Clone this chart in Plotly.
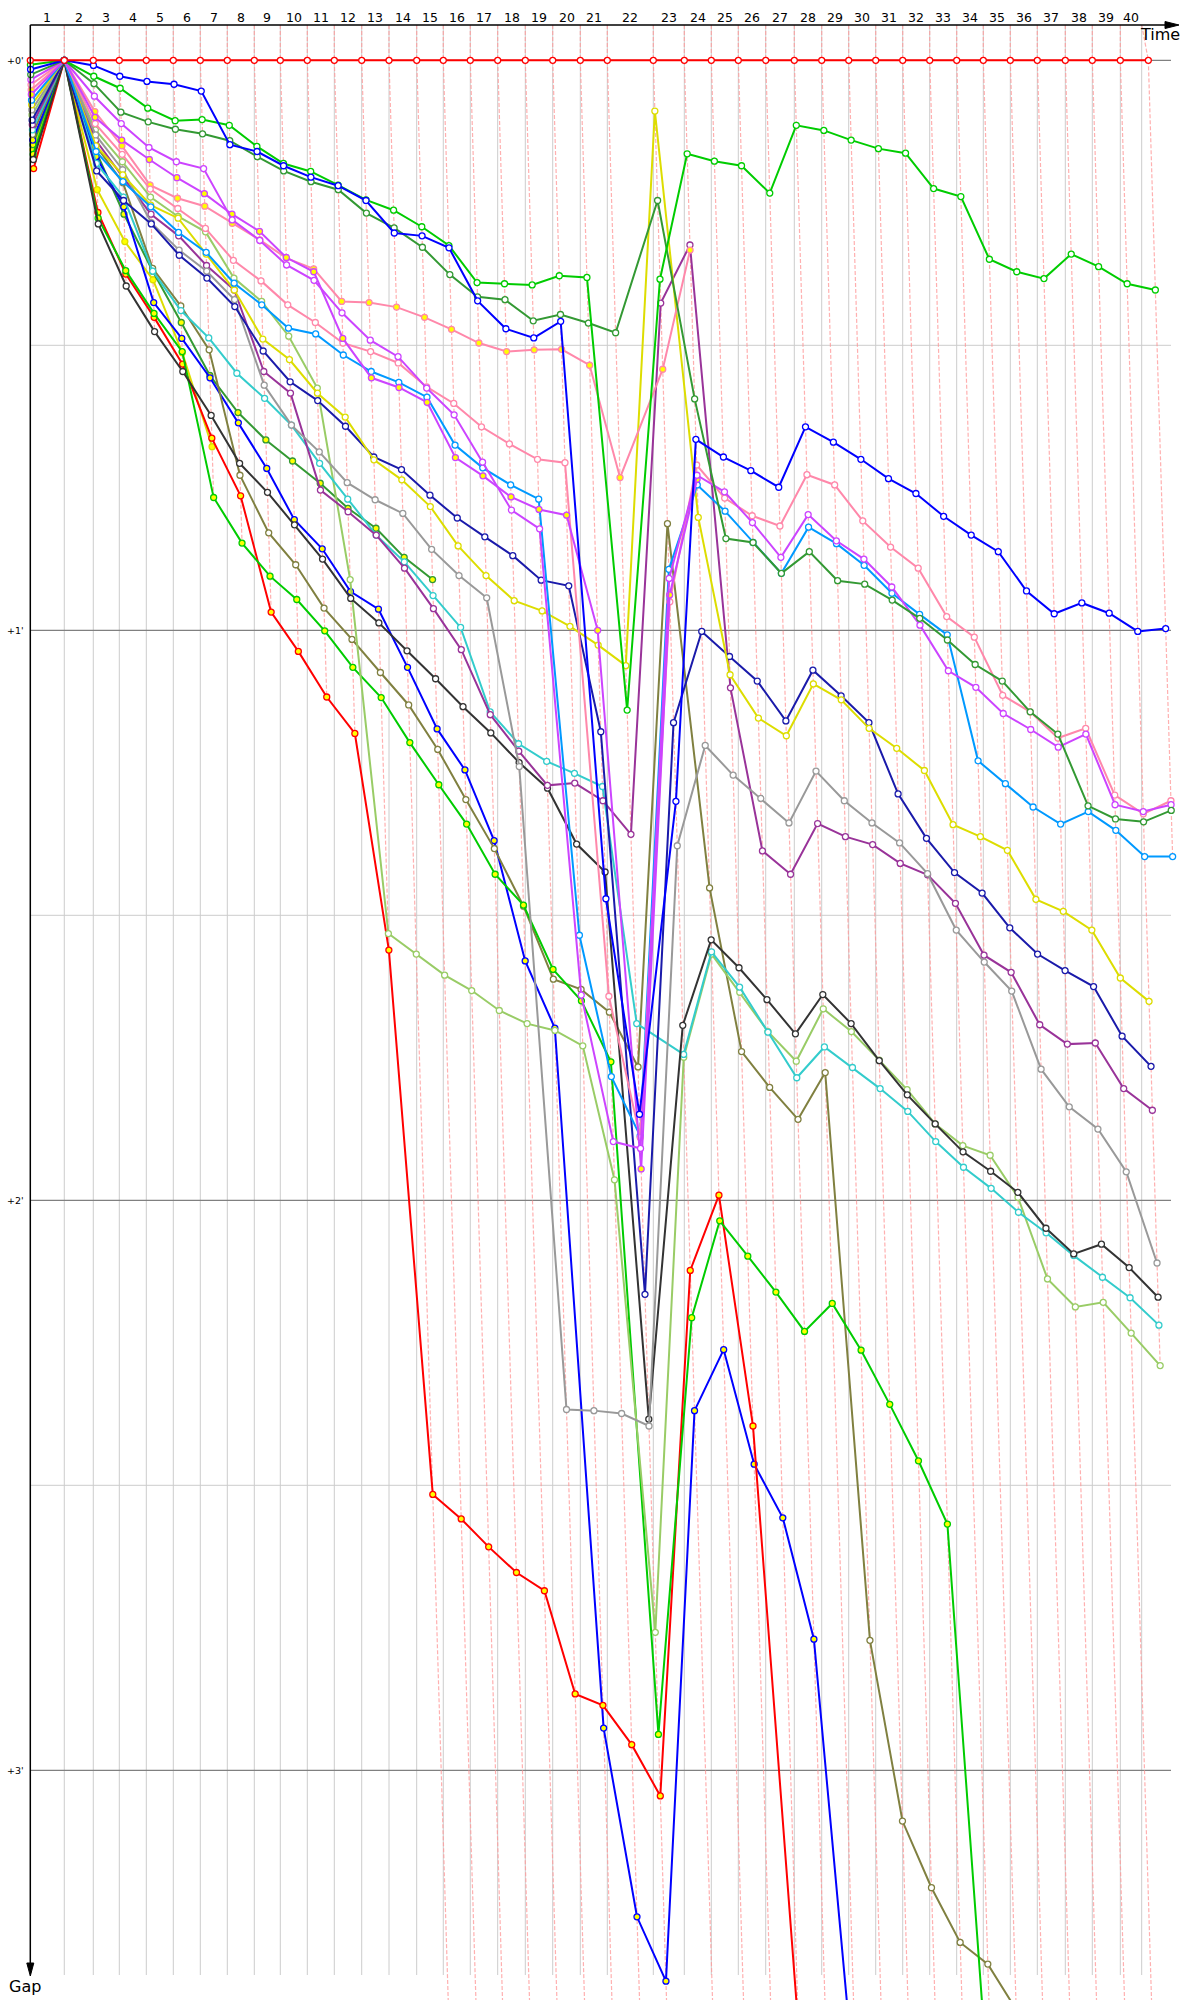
import plotly.graph_objects as go

# ---------------- data ----------------
# leader lap durations in seconds (laps 1..40)
LAP_SECONDS = [117.2, 100.0, 89.7, 93.1, 93.1, 93.1, 93.1, 93.1, 89.7, 93.1,
               93.1, 94.5, 94.1, 95.5, 91.7, 93.1, 94.5, 95.2, 94.5, 95.2,
               93.1, 158.6, 106.9, 93.1, 93.1, 94.5, 98.6, 94.5, 93.1, 93.1,
               93.1, 93.1, 93.1, 91.7, 93.1, 93.1, 96.6, 93.1, 96.6, 96.6]
RACE_END_S = 3832.4
OFFCHART_LAPS = (13, 38)   # laps on which some car is already beyond the bottom of the chart
LAP_LABELS = ["1", "2", "3", "4", "5", "6", "7", "8", "9", "10",
              "11", "12", "13", "14", "15", "16", "17", "18", "19", "20",
              "21", "22", "23", "24", "25", "26", "27", "28", "29", "30",
              "31", "32", "33", "34", "35", "36", "37", "38", "39", "40"]
GAP_TICKS = [0, 1, 2, 3]
GAP_TICK_TEXT = ["+0'", "+1'", "+2'", "+3'"]

# gaps to leader in minutes, index = lap (0 = start)
leader = [0, 0, 0, 0, 0, 0, 0, 0, 0, 0, 0, 0, 0, 0, 0, 0, 0, 0, 0, 0, 0,
          0, 0, 0, 0, 0, 0, 0, 0, 0, 0, 0, 0, 0, 0, 0, 0, 0, 0, 0, 0]
blue = [0.016, 0, 0.009, 0.028, 0.037, 0.042, 0.054, 0.148, 0.160, 0.185, 0.205,
        0.220, 0.246, 0.303, 0.308, 0.329, 0.422, 0.471, 0.487, 0.458, 1.471,
        1.849, 1.30, 0.665, 0.696, 0.720, 0.749, 0.643, 0.670, 0.700, 0.734,
        0.760, 0.800, 0.833, 0.862, 0.931, 0.971, 0.952, 0.970, 1.002, 0.997]
green = [0.008, 0, 0.028, 0.049, 0.084, 0.106, 0.104, 0.114, 0.151, 0.181, 0.195,
         0.219, 0.245, 0.263, 0.292, 0.325, 0.390, 0.392, 0.394, 0.378, 0.381,
         1.14, 0.384, 0.164, 0.177, 0.185, 0.233, 0.114, 0.123, 0.140, 0.155,
         0.163, 0.225, 0.239, 0.349, 0.371, 0.383, 0.340, 0.362, 0.392, 0.403]
dkgreen = [0.025, 0, 0.041, 0.091, 0.108, 0.121, 0.129, 0.141, 0.169, 0.194, 0.213,
           0.227, 0.268, 0.294, 0.328, 0.376, 0.415, 0.420, 0.457, 0.446, 0.461,
           0.478, 0.246, 0.594, 0.839, 0.846, 0.900, 0.862, 0.913, 0.919, 0.947,
           0.979, 1.017, 1.060, 1.089, 1.143, 1.182, 1.308, 1.331, 1.336, 1.316]
violet = [0.034, 0, 0.063, 0.111, 0.153, 0.178, 0.190, 0.280, 0.316, 0.359, 0.386,
          0.443, 0.491, 0.520, 0.575, 0.622, 0.705, 0.789, 0.822, 1.640, 1.897,
          1.909, 0.909, 0.728, 0.757, 0.811, 0.872, 0.797, 0.843, 0.875, 0.924,
          0.991, 1.071, 1.100, 1.146, 1.174, 1.205, 1.182, 1.306, 1.318, 1.306]
violet_y = [0.060, 0, 0.100, 0.140, 0.174, 0.206, 0.234, 0.270, 0.300, 0.346, 0.371,
            0.488, 0.557, 0.574, 0.600, 0.697, 0.729, 0.766, 0.788, 0.798, 1.000,
            1.945, 0.938, 0.735]
pink = [0.043, 0, 0.111, 0.165, 0.226, 0.260, 0.295, 0.351, 0.387, 0.429, 0.460,
        0.496, 0.511, 0.531, 0.573, 0.602, 0.643, 0.673, 0.700, 0.706, 1.642,
        1.89, 0.95, 0.710, 0.768, 0.799, 0.817, 0.727, 0.745, 0.808, 0.854,
        0.891, 0.976, 1.012, 1.114, 1.143, 1.189, 1.172, 1.289, 1.322, 1.299]
pink_y = [0.052, 0, 0.090, 0.150, 0.219, 0.242, 0.256, 0.286, 0.315, 0.347, 0.366,
          0.423, 0.425, 0.433, 0.451, 0.472, 0.496, 0.511, 0.508, 0.507, 0.535,
          0.732, 0.542, 0.333]
skyblue = [0.070, 0, 0.160, 0.213, 0.257, 0.302, 0.337, 0.391, 0.429, 0.470, 0.480,
           0.517, 0.546, 0.565, 0.591, 0.675, 0.715, 0.745, 0.770, 1.535, 1.783,
           1.887, 0.893, 0.745, 0.791, 0.846, 0.900, 0.819, 0.848, 0.886, 0.935,
           0.972, 1.008, 1.229, 1.269, 1.310, 1.340, 1.318, 1.351, 1.397, 1.397]
yellow = [0.078, 0, 0.150, 0.201, 0.254, 0.277, 0.340, 0.403, 0.489, 0.525, 0.584,
          0.626, 0.701, 0.736, 0.783, 0.852, 0.904, 0.948, 0.966, 0.993, 1.026,
          1.062, 0.089, 0.802, 1.078, 1.154, 1.185, 1.094, 1.122, 1.172, 1.207,
          1.246, 1.341, 1.362, 1.386, 1.472, 1.493, 1.526, 1.610, 1.651]
navy = [0.105, 0, 0.194, 0.246, 0.287, 0.342, 0.382, 0.432, 0.510, 0.564, 0.597,
        0.642, 0.696, 0.718, 0.763, 0.803, 0.836, 0.869, 0.912, 0.922, 1.178,
        2.165, 1.162, 1.002, 1.046, 1.089, 1.159, 1.070, 1.115, 1.162, 1.287,
        1.365, 1.425, 1.461, 1.522, 1.568, 1.597, 1.625, 1.712, 1.765]
grey = [0.087, 0, 0.131, 0.192, 0.285, 0.333, 0.370, 0.420, 0.570, 0.640, 0.687,
        0.741, 0.771, 0.795, 0.858, 0.904, 0.943, 1.239, 2.367, 2.369, 2.374,
        2.396, 1.378, 1.202, 1.254, 1.295, 1.338, 1.247, 1.299, 1.338, 1.373,
        1.427, 1.526, 1.582, 1.633, 1.770, 1.836, 1.875, 1.950, 2.110]
purple = [0.113, 0, 0.140, 0.205, 0.270, 0.308, 0.360, 0.403, 0.546, 0.584, 0.754,
          0.792, 0.833, 0.891, 0.962, 1.034, 1.148, 1.212, 1.272, 1.268, 1.299,
          1.358, 0.426, 0.324, 1.101, 1.387, 1.428, 1.339, 1.362, 1.376, 1.409,
          1.429, 1.479, 1.570, 1.600, 1.692, 1.726, 1.724, 1.804, 1.842]
black = [0.174, 0, 0.287, 0.396, 0.476, 0.546, 0.623, 0.707, 0.758, 0.815, 0.875,
         0.944, 0.987, 1.036, 1.085, 1.134, 1.180, 1.232, 1.277, 1.375, 1.424,
         2.384, 1.693, 1.543, 1.592, 1.648, 1.708, 1.639, 1.690, 1.755, 1.815,
         1.866, 1.915, 1.949, 1.986, 2.049, 2.094, 2.077, 2.118, 2.170]
cyan = [0.122, 0, 0.181, 0.240, 0.370, 0.439, 0.487, 0.549, 0.593, 0.640, 0.707,
        0.770, 0.833, 0.880, 0.939, 0.995, 1.143, 1.199, 1.230, 1.251, 1.274,
        1.690, 1.744, 1.564, 1.626, 1.705, 1.785, 1.731, 1.767, 1.804, 1.844,
        1.897, 1.942, 1.979, 2.021, 2.057, 2.097, 2.135, 2.171, 2.219]
ygreen = [0.096, 0, 0.122, 0.178, 0.240, 0.274, 0.301, 0.382, 0.423, 0.484, 0.575,
          0.911, 1.532, 1.568, 1.605, 1.632, 1.667, 1.690, 1.702, 1.729, 1.964,
          2.758, 1.749, 1.568, 1.635, 1.704, 1.756, 1.664, 1.704, 1.754, 1.806,
          1.866, 1.904, 1.921, 1.995, 2.138, 2.187, 2.179, 2.233, 2.290]
green_y = [0.165, 0, 0.277, 0.369, 0.444, 0.511, 0.767, 0.847, 0.905, 0.946, 1.001,
           1.065, 1.118, 1.197, 1.271, 1.340, 1.428, 1.482, 1.595, 1.650, 1.757,
           2.937, 2.206, 2.036, 2.098, 2.161, 2.230, 2.181, 2.263, 2.358, 2.457,
           2.568, 3.70]
red_y = [0.190, 0, 0.267, 0.375, 0.451, 0.533, 0.663, 0.764, 0.968, 1.037, 1.117,
         1.181, 1.561, 2.516, 2.559, 2.608, 2.653, 2.685, 2.866, 2.886, 2.955,
         3.045, 2.123, 1.991, 2.396, 3.45]
olive = [0.130, 0, 0.150, 0.215, 0.365, 0.431, 0.508, 0.728, 0.829, 0.885, 0.961,
         1.016, 1.074, 1.131, 1.209, 1.297, 1.383, 1.484, 1.612, 1.630, 1.670,
         1.766, 0.813, 1.452, 1.739, 1.802, 1.858, 1.776, 2.772, 3.089, 3.206,
         3.302, 3.340, 3.42]
blue_y = [0.140, 0, 0.169, 0.257, 0.425, 0.488, 0.557, 0.636, 0.716, 0.806, 0.857,
          0.932, 0.963, 1.065, 1.173, 1.245, 1.369, 1.580, 1.698, 2.926, 3.257,
          3.37, 2.369, 2.262, 2.463, 2.557, 2.77, 3.60]
dkgreen_y = [0.148, 0, 0.160, 0.270, 0.370, 0.460, 0.553, 0.618, 0.666, 0.703, 0.742,
             0.786, 0.821, 0.872, 0.911]
yellow_y = [0.157, 0, 0.227, 0.318, 0.385, 0.513, 0.678]

# (gaps, line colour, marker fill)
CARS = [
    (yellow_y, "#dddd00", "#ffff00"),
    (dkgreen_y, "#339933", "#ffff00"),
    (blue_y, "#0000ff", "#ffff00"),
    (olive, "#808040", "#ffffff"),
    (red_y, "#ff0000", "#ffff00"),
    (green_y, "#00cc00", "#ffff00"),
    (ygreen, "#99cc66", "#ffffff"),
    (cyan, "#33cccc", "#ffffff"),
    (black, "#333333", "#ffffff"),
    (purple, "#993399", "#ffffff"),
    (grey, "#999999", "#ffffff"),
    (navy, "#1a1aaa", "#ffffff"),
    (yellow, "#dddd00", "#ffffff"),
    (skyblue, "#0099ff", "#ffffff"),
    (pink_y, "#ff88aa", "#ffff00"),
    (pink, "#ff88aa", "#ffffff"),
    (violet_y, "#cc44ff", "#ffff00"),
    (violet, "#cc44ff", "#ffffff"),
    (dkgreen, "#339933", "#ffffff"),
    (green, "#00cc00", "#ffffff"),
    (blue, "#0000ff", "#ffffff"),
    (leader, "#ff0000", "#ffffff"),
]

# ---------------- geometry ----------------
W, H = 1200, 2000
PX_X0, PX_PER_S = 30.3, 17.4 / 60.0      # time axis
PX_Y0, PX_PER_MIN = 60.3, 570.0           # gap axis
X_RANGE = [(0 - PX_X0) / PX_PER_S, (W - PX_X0) / PX_PER_S]
Y_RANGE = [(H - PX_Y0) / PX_PER_MIN, (0 - PX_Y0) / PX_PER_MIN]
TOP_PX, BOT_PX, RIGHT_PX = 25, 1975, 1171
G_TOP = (TOP_PX - PX_Y0) / PX_PER_MIN
G_BOT = Y_RANGE[0] + 0.05


def px(x):
    return x / W


def py(y):
    return 1 - y / H


cum = [0.0]
for s in LAP_SECONDS:
    cum.append(cum[-1] + s)
n_laps = len(LAP_SECONDS)

fig = go.Figure()

# ---- lap lines (dashed) ----
lx, ly = [], []
for k in range(1, n_laps + 1):
    gs = [c[0][k] for c in CARS if len(c[0]) > k]
    gmax = max(gs)
    if OFFCHART_LAPS[0] <= k <= OFFCHART_LAPS[1]:
        gmax = max(gmax, G_BOT)
    top_x = RACE_END_S if k == n_laps else cum[k]
    lx += [top_x, cum[k], cum[k] + gmax * 60, None]
    ly += [G_TOP, 0, gmax, None]
fig.add_trace(go.Scatter(x=lx, y=ly, mode="lines", hoverinfo="skip",
                         line=dict(color="rgba(255,150,150,0.75)", width=1.2, dash="4px,2px")))

# ---- cars ----
for gaps, col, fill in CARS:
    xs = [cum[k] + g * 60 for k, g in enumerate(gaps)]
    fig.add_trace(go.Scatter(
        x=xs, y=gaps, mode="lines+markers",
        line=dict(color=col, width=2),
        marker=dict(symbol="circle", size=6, color=fill, line=dict(color=col, width=1.3)),
        hoverinfo="skip"))

shapes = []
# vertical grid at leader lap times
for t in cum[1:n_laps] + [RACE_END_S]:
    shapes.append(dict(type="line", xref="x", yref="paper", x0=t, x1=t,
                       y0=py(TOP_PX), y1=py(BOT_PX), layer="below",
                       line=dict(color="#cccccc", width=1)))
# horizontal grid
for g in [0.5, 1.5, 2.5]:
    shapes.append(dict(type="line", xref="paper", yref="y", x0=px(PX_X0), x1=px(RIGHT_PX),
                       y0=g, y1=g, layer="below", line=dict(color="#cccccc", width=1)))
for g in GAP_TICKS:
    shapes.append(dict(type="line", xref="paper", yref="y", x0=px(PX_X0), x1=px(RIGHT_PX),
                       y0=g, y1=g, layer="below", line=dict(color="#808080", width=1.2)))
# axes
shapes.append(dict(type="line", xref="paper", yref="paper", x0=px(PX_X0), x1=px(1168),
                   y0=py(TOP_PX), y1=py(TOP_PX), line=dict(color="black", width=1.5)))
shapes.append(dict(type="path", xref="paper", yref="paper",
                   path=f"M {px(1165)},{py(21.5)} L {px(1179)},{py(TOP_PX)} L {px(1165)},{py(28.5)} Z",
                   fillcolor="black", line=dict(color="black", width=1)))
shapes.append(dict(type="line", xref="paper", yref="paper", x0=px(PX_X0), x1=px(PX_X0),
                   y0=py(TOP_PX), y1=py(1966), line=dict(color="black", width=1.5)))
shapes.append(dict(type="path", xref="paper", yref="paper",
                   path=f"M {px(26.8)},{py(1963)} L {px(PX_X0)},{py(1976)} L {px(33.8)},{py(1963)} Z",
                   fillcolor="black", line=dict(color="black", width=1)))

annotations = []
FONT = "DejaVu Sans, Verdana, sans-serif"
for i, lab in enumerate(LAP_LABELS):
    right = cum[i + 1] if i + 1 < n_laps else RACE_END_S
    annotations.append(dict(x=(cum[i] + right) / 2, y=py(17.5), xref="x", yref="paper",
                            text=lab, showarrow=False, xanchor="center", yanchor="middle",
                            font=dict(family=FONT, size=12.5, color="black")))
for g, t in zip(GAP_TICKS, GAP_TICK_TEXT):
    annotations.append(dict(x=px(26), y=g, xref="paper", yref="y", text=t, showarrow=False,
                            xanchor="right", yanchor="middle",
                            font=dict(family=FONT, size=9.5, color="black")))
annotations.append(dict(x=px(1160), y=py(35), xref="paper", yref="paper", text="Time",
                        showarrow=False, xanchor="center", yanchor="middle",
                        font=dict(family=FONT, size=16, color="black")))
annotations.append(dict(x=px(25), y=py(1986), xref="paper", yref="paper", text="Gap",
                        showarrow=False, xanchor="center", yanchor="middle",
                        font=dict(family=FONT, size=16, color="black")))

fig.update_layout(
    width=W, height=H, autosize=False,
    margin=dict(l=0, r=0, t=0, b=0, pad=0),
    paper_bgcolor="white", plot_bgcolor="white",
    showlegend=False, hovermode=False,
    xaxis=dict(range=X_RANGE, visible=False, showgrid=False, zeroline=False, domain=[0, 1]),
    yaxis=dict(range=Y_RANGE, visible=False, showgrid=False, zeroline=False, domain=[0, 1]),
    shapes=shapes, annotations=annotations,
)

fig.write_html("out.html", config={"displayModeBar": False, "staticPlot": True},
               post_script="document.body.style.margin='0';document.body.style.padding='0';")
